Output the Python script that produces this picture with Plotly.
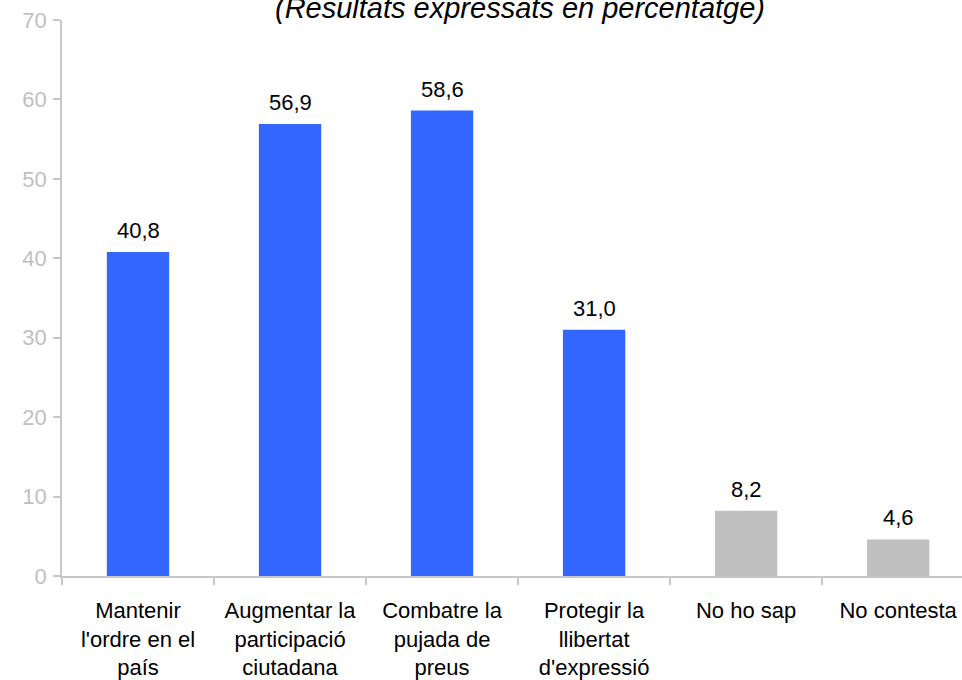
import plotly.graph_objects as go

categories = [
    "Mantenir<br>l'ordre en el<br>país",
    "Augmentar la<br>participació<br>ciutadana",
    "Combatre la<br>pujada de<br>preus",
    "Protegir la<br>llibertat<br>d'expressió",
    "No ho sap",
    "No contesta",
]
values = [40.8, 56.9, 58.6, 31.0, 8.2, 4.6]
colors = ["#3366FF", "#3366FF", "#3366FF", "#3366FF", "#C0C0C0", "#C0C0C0"]
labels = [f"{v:.1f}".replace(".", ",") for v in values]

font = "Liberation Sans, Arial, sans-serif"

fig = go.Figure(
    go.Bar(
        x=categories,
        y=values,
        marker=dict(color=colors, line=dict(width=0)),
        width=0.41,
    )
)

# value labels above the bars
for cat, val, lab in zip(categories, values, labels):
    fig.add_annotation(
        x=cat, y=val, text=lab,
        xanchor="center", yanchor="bottom", yshift=7,
        showarrow=False,
        font=dict(family=font, size=22, color="black"),
    )

fig.update_xaxes(
    type="category",
    range=[-0.5, 5.42],
    showline=True, linecolor="#C8C8C8", linewidth=1.5,
    ticks="outside", tickson="boundaries", ticklen=7, tickcolor="#C8C8C8", tickwidth=1.5,
    tickfont=dict(family=font, size=22, color="black"),
    ticklabelstandoff=14,
    showgrid=False,
)
fig.update_yaxes(
    range=[0, 70], dtick=10,
    showline=True, linecolor="#C8C8C8", linewidth=1.5,
    ticks="outside", ticklen=7, tickcolor="#C8C8C8", tickwidth=1.5,
    tickfont=dict(family=font, size=22, color="#C0C0C0"),
    ticklabelstandoff=2, ticklabeloverflow="allow",
    showgrid=False, zeroline=False,
)

fig.add_annotation(
    text="<i>(Resultats expressats en percentatge)</i>",
    xref="paper", yref="paper", x=0.509, y=1,
    xanchor="center", yanchor="middle", yshift=12,
    showarrow=False,
    font=dict(family=font, size=29, color="black"),
)

fig.update_layout(
    width=962, height=680,
    margin=dict(l=62, r=0, t=20, b=99),
    plot_bgcolor="white", paper_bgcolor="white",
    showlegend=False,
)

# drop the default 8px page margin so the figure sits at the window corner
fig.write_html(
    "out.html",
    config={"displayModeBar": False},
    post_script="document.body.style.margin='0';",
)
